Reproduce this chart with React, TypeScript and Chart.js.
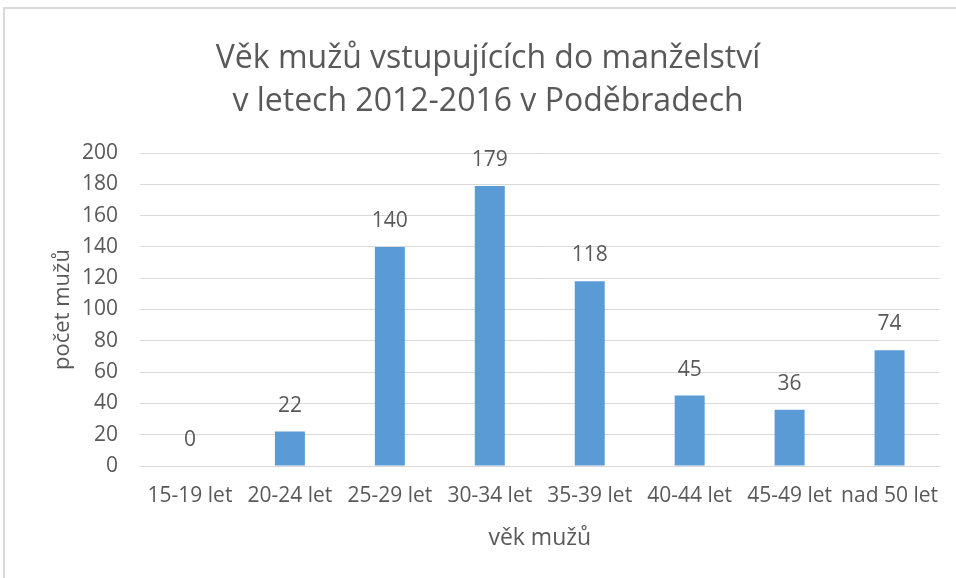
import { useEffect, useRef } from "react";
import { Chart, registerables } from "chart.js";

Chart.register(...registerables);

const categories = [
  "15-19 let",
  "20-24 let",
  "25-29 let",
  "30-34 let",
  "35-39 let",
  "40-44 let",
  "45-49 let",
  "nad 50 let",
];
const values = [0, 22, 140, 179, 118, 45, 36, 74];
const titleLines = ["Věk mužů vstupujících do manželství", "v letech 2012-2016 v Poděbradech"];
const xTitle = "věk mužů";
const yTitle = "počet mužů";
const yMax = 200;
const yStep = 20;

const FONT = "'Open Sans', sans-serif";
const TEXT = "#595959";
const GRID = "#d9d9d9";
const BAR = "#5b9bd5";

const dataLabels = {
  id: "dataLabels",
  afterDatasetsDraw(chart: any) {
    const ctx = chart.ctx;
    const meta = chart.getDatasetMeta(0);
    ctx.save();
    ctx.fillStyle = TEXT;
    ctx.font = `21px ${FONT}`;
    ctx.textAlign = "center";
    ctx.textBaseline = "middle";
    meta.data.forEach((el: any, i: number) => {
      ctx.fillText(String(values[i]), el.x, el.y - 26);
    });
    ctx.restore();
  },
};

export default function App() {
  const ref = useRef<HTMLCanvasElement | null>(null);
  useEffect(() => {
    if (!ref.current) return;
    const chart = new Chart(ref.current, {
      type: "bar",
      data: {
        labels: categories,
        datasets: [
          {
            data: values,
            backgroundColor: BAR,
            borderWidth: 0,
            barPercentage: 0.3,
            categoryPercentage: 1,
          },
        ],
      },
      options: {
        responsive: false,
        animation: false,
        layout: { padding: { left: 36, right: 16, top: 0, bottom: 26 } },
        plugins: {
          legend: { display: false },
          tooltip: { enabled: false },
          title: {
            display: true,
            text: titleLines,
            color: TEXT,
            font: { family: FONT, size: 32, weight: "normal", lineHeight: 1.344 },
            padding: { top: 37, bottom: 30 },
          },
        },
        scales: {
          x: {
            grid: { display: false, drawTicks: false },
            border: { display: true, color: GRID },
            ticks: {
              color: TEXT,
              font: { family: FONT, size: 21 },
              padding: 17,
              maxRotation: 0,
              autoSkip: false,
            },
            title: {
              display: true,
              text: xTitle,
              color: TEXT,
              font: { family: FONT, size: 23 },
              padding: { top: 0, bottom: 0 },
            },
            afterFit(scale: any) {
              scale.height = 86;
            },
          },
          y: {
            min: 0,
            max: yMax,
            grid: { color: GRID, drawTicks: false },
            border: { display: false },
            ticks: {
              stepSize: yStep,
              color: TEXT,
              font: { family: FONT, size: 21 },
              padding: 22,
            },
            title: {
              display: true,
              text: yTitle,
              color: TEXT,
              font: { family: FONT, size: 22 },
              padding: { top: 14, bottom: 0 },
            },
            afterFit(scale: any) {
              scale.width = 104;
            },
          },
        },
      },
      plugins: [dataLabels],
    });
    return () => chart.destroy();
  }, []);

  return (
    <div
      style={{
        position: "fixed",
        left: 0,
        top: 0,
        width: 956,
        height: 578,
        background: "#fff",
        overflow: "hidden",
      }}
    >
      <div
        style={{
          position: "absolute",
          left: 3,
          top: 7,
          width: 1000,
          height: 700,
          borderLeft: "2px solid #d9d9d9",
          borderTop: "2px solid #d9d9d9",
        }}
      />
      <canvas
        ref={ref}
        width={956}
        height={578}
        style={{ position: "absolute", left: 0, top: 0, width: 956, height: 578 }}
      />
    </div>
  );
}
